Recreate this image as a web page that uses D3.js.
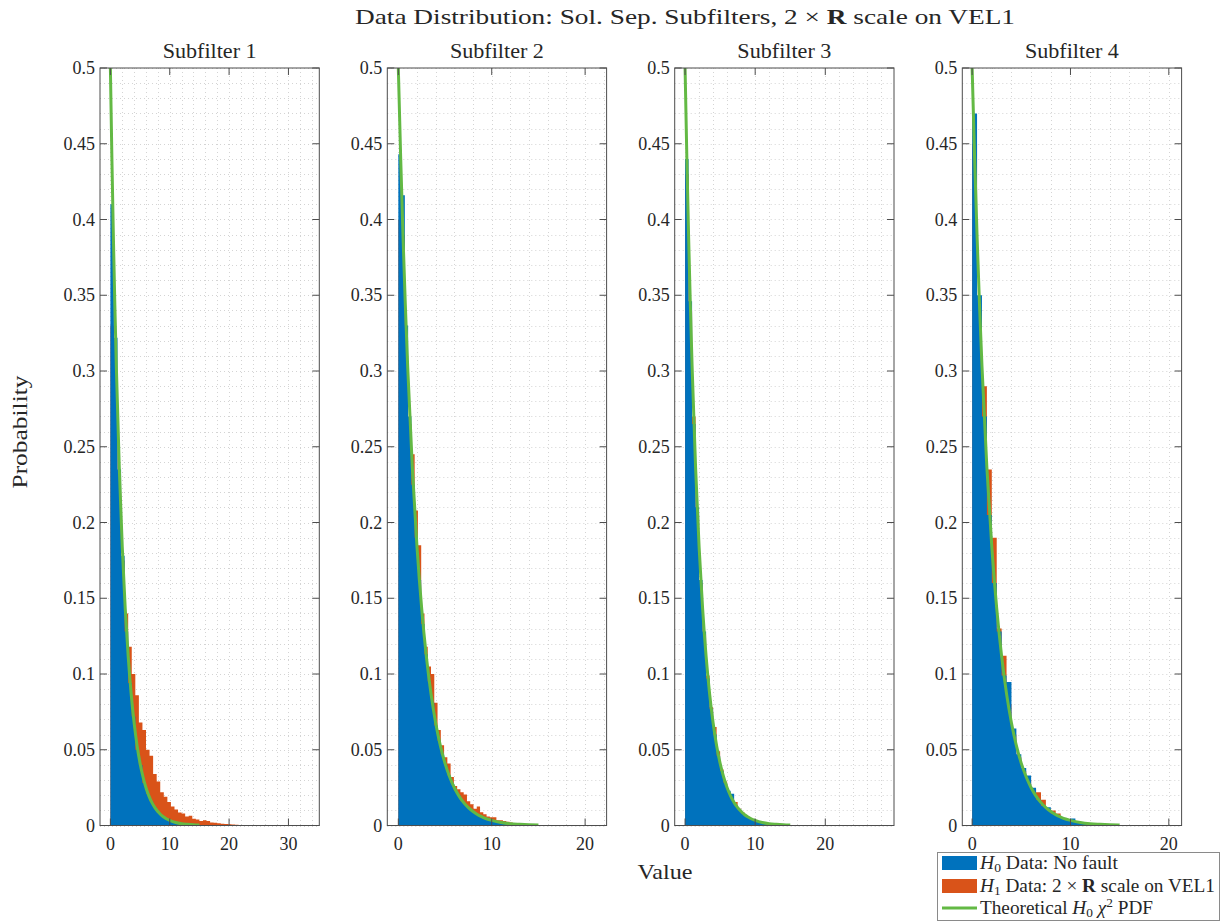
<!DOCTYPE html>
<html>
<head>
<meta charset="utf-8">
<script src="https://cdn.jsdelivr.net/npm/d3@7"></script>
<style>
  body { margin: 0; background: #ffffff; }
  text { font-family: "Liberation Serif", "Times New Roman", serif; fill: #262626; }
</style>
</head>
<body>
<svg id="chart" width="1221" height="922"></svg>
<script>
// ---- data ----------------------------------------------------------------
const panelTitles = ["Subfilter 1", "Subfilter 2", "Subfilter 3", "Subfilter 4"];

const xTicks1 = [0, 10, 20, 30];
const xTicks2 = [0, 10, 20];
const xTicks3 = [0, 10, 20];
const xTicks4 = [0, 10, 20];

const xLimits1 = [-1.75, 35.2];
const xLimits2 = [-1.18, 22.3];
const xLimits3 = [-1.48, 29.8];
const xLimits4 = [-1.0, 21.3];

const yTicks = [0, 0.05, 0.1, 0.15, 0.2, 0.25, 0.3, 0.35, 0.4, 0.45, 0.5];
const yTickLabels = ["0", "0.05", "0.1", "0.15", "0.2", "0.25", "0.3", "0.35", "0.4", "0.45", "0.5"];

// histogram bin widths (bins start at 0)
const binWidth1 = 0.6;
const binWidth2 = 0.35;
const binWidth3 = 0.5;
const binWidth4 = 0.5;

// H0: no fault (pdf-normalised bin heights)
const h0Sub1 = [0.41, 0.322, 0.235, 0.178, 0.128, 0.094, 0.072, 0.050, 0.040, 0.028, 0.021, 0.016, 0.012, 0.0085,
  0.0065, 0.005, 0.0035, 0.0027, 0.002, 0.0014, 0.0011, 0.0008, 0.0006, 0.0004, 0.0003, 0.0002, 0.0002, 0.0001];
const h0Sub2 = [0.443, 0.416, 0.33, 0.27, 0.225, 0.19, 0.162, 0.133, 0.113, 0.095, 0.081, 0.066, 0.056, 0.047, 0.040,
  0.033, 0.028, 0.023, 0.020, 0.016, 0.014, 0.0115, 0.0098, 0.0082, 0.007, 0.0057, 0.005, 0.004, 0.0034, 0.0029,
  0.0025, 0.002, 0.0017, 0.0014, 0.0012, 0.001, 0.0009, 0.0007, 0.0006, 0.0005, 0.0004, 0.0003, 0.0003, 0.0002,
  0.0002, 0.0002, 0.0001, 0.0001, 0.0001, 0, 0, 0.0003, 0.0002];
const h0Sub3 = [0.44, 0.346, 0.265, 0.21, 0.162, 0.128, 0.097, 0.077, 0.060, 0.046, 0.036, 0.028, 0.023, 0.021,
  0.0135, 0.0105, 0.008, 0.0063, 0.005, 0.0038, 0.003, 0.0023, 0.0018, 0.0014, 0.0011, 0.0009, 0.0007, 0.0005,
  0.0004, 0.0003];
const h0Sub4 = [0.47, 0.35, 0.27, 0.205, 0.16, 0.128, 0.099, 0.0947, 0.064, 0.047, 0.038, 0.033, 0.025, 0.017,
  0.013, 0.012, 0.008, 0.0065, 0.005, 0.004, 0.0046, 0.0025, 0.0018, 0.0014, 0.0011, 0.0009, 0.0007, 0.0005,
  0.0004, 0.0003, 0, 0.0004, 0, 0, 0, 0.0003];

// H1: 2 x R scale on VEL1
const h1Sub1 = [0.33, 0.27, 0.22, 0.175, 0.14, 0.118, 0.100, 0.086, 0.068, 0.063, 0.050, 0.046, 0.034, 0.029,
  0.022, 0.019, 0.0155, 0.0125, 0.0105, 0.0085, 0.0080, 0.0060, 0.0065, 0.0045, 0.0040, 0.0030, 0.0035, 0.0030,
  0.0020, 0.0018, 0.0015, 0.0012, 0.0010, 0.0008, 0.0006, 0.0005, 0.0004, 0.0003, 0.0003, 0.0002, 0.0002,
  0.0001, 0.0002, 0.0001, 0, 0.0001, 0, 0.0002];
const h1Sub2 = [0.40, 0.39, 0.31, 0.265, 0.245, 0.208, 0.185, 0.14, 0.118, 0.105, 0.100, 0.081, 0.063, 0.053,
  0.045, 0.041, 0.032, 0.026, 0.024, 0.022, 0.0205, 0.016, 0.014, 0.011, 0.0125, 0.0088, 0.0075, 0.006, 0.0055,
  0.0055, 0.0035, 0.0035, 0.003, 0.0025, 0.002, 0.0015, 0.0012, 0.001, 0.0008, 0.0006, 0.0005, 0.0004, 0.0003,
  0.0003, 0.0002, 0.0002, 0.0001, 0.0001, 0, 0, 0, 0, 0, 0.0001, 0, 0, 0, 0, 0, 0.0002];
const h1Sub3 = [0.43, 0.34, 0.27, 0.205, 0.16, 0.126, 0.099, 0.078, 0.065, 0.049, 0.037, 0.029, 0.022, 0.017,
  0.0155, 0.011, 0.0085, 0.0065, 0.005, 0.004, 0.003, 0.0024, 0.0018, 0.0015, 0.0012, 0.0009, 0.0007, 0.0005,
  0.0004, 0.0003];
const h1Sub4 = [0.45, 0.34, 0.29, 0.235, 0.19, 0.13, 0.112, 0.08, 0.06, 0.045, 0.036, 0.03, 0.024, 0.022, 0.017,
  0.011, 0.0099, 0.0079, 0.005, 0.004, 0.003, 0.0025, 0.002, 0.0015, 0.0011, 0.0009, 0.0007, 0.0005, 0.0004, 0.0003];

// theoretical H0 chi-square pdf, sampled
const pdfX = [0, 0.25, 0.5, 0.75, 1, 1.5, 2, 2.5, 3, 3.5, 4, 4.5, 5, 5.5, 6, 6.5, 7, 7.5, 8, 8.5, 9, 9.5, 10,
  11, 12, 13, 14, 15];
const pdfY = [0.5, 0.4412, 0.3894, 0.3437, 0.3033, 0.2362, 0.1839, 0.1433, 0.1116, 0.0869, 0.0677, 0.0527, 0.0410,
  0.0320, 0.0249, 0.0194, 0.0151, 0.0118, 0.0092, 0.0071, 0.0056, 0.0043, 0.0034, 0.0020, 0.0012, 0.0008, 0.0005,
  0.0003];

// ---- layout & style --------------------------------------------------------
const panels = [
  { title: panelTitles[0], ticks: xTicks1, lim: xLimits1, w0: binWidth1, h0: h0Sub1, w1: binWidth1, h1: h1Sub1, left: 100 },
  { title: panelTitles[1], ticks: xTicks2, lim: xLimits2, w0: binWidth2, h0: h0Sub2, w1: binWidth2, h1: h1Sub2, left: 387.3 },
  { title: panelTitles[2], ticks: xTicks3, lim: xLimits3, w0: binWidth3, h0: h0Sub3, w1: binWidth3, h1: h1Sub3, left: 674.7 },
  { title: panelTitles[3], ticks: xTicks4, lim: xLimits4, w0: binWidth4, h0: h0Sub4, w1: binWidth4, h1: h1Sub4, left: 962.3 }
];
const panelW = 219.3;
const plotTop = 68, plotBottom = 825.5;
const COL_H0 = "#0072BD", COL_H1 = "#D95319", COL_PDF = "#63B944";
const AXIS = "#4d4d4d";
const tickLen = 7;

const svg = d3.select("#chart");
const y = d3.scaleLinear().domain([0, 0.5]).range([plotBottom, plotTop]);

function histArea(x, values, w) {
  const pts = values.map((v, i) => ({ x: i * w, v }));
  pts.push({ x: values.length * w, v: 0 });
  return d3.area()
    .curve(d3.curveStepAfter)
    .x(d => x(d.x))
    .y0(y(0))
    .y1(d => y(d.v))(pts);
}

panels.forEach((p, k) => {
  const x = d3.scaleLinear().domain(p.lim).range([p.left, p.left + panelW]);
  const g = svg.append("g");
  const clipId = "clip" + k;
  svg.append("clipPath").attr("id", clipId)
    .append("rect").attr("x", p.left).attr("y", plotTop).attr("width", panelW).attr("height", plotBottom - plotTop);

  // minor and major grid, dotted
  const minorY = d3.range(0, 0.5001, 0.01);
  const minorX = d3.range(0, p.lim[1], 2);
  const grid = g.append("g").attr("stroke", "#c9c9c9").attr("stroke-width", 0.8)
    .attr("stroke-dasharray", "1,3").attr("fill", "none");
  grid.selectAll("line.h").data(minorY).join("line").attr("class", "h")
    .attr("x1", p.left).attr("x2", p.left + panelW)
    .attr("y1", d => Math.round(y(d)) + 0.5).attr("y2", d => Math.round(y(d)) + 0.5);
  grid.selectAll("line.v").data(minorX).join("line").attr("class", "v")
    .attr("y1", plotTop).attr("y2", plotBottom)
    .attr("x1", d => Math.round(x(d)) + 0.5).attr("x2", d => Math.round(x(d)) + 0.5);

  // histograms: H1 underneath, H0 on top
  const hg = g.append("g").attr("clip-path", `url(#${clipId})`);
  hg.append("path").attr("d", histArea(x, p.h1, p.w1)).attr("fill", COL_H1);
  hg.append("path").attr("d", histArea(x, p.h0, p.w0)).attr("fill", COL_H0);

  // theoretical pdf
  hg.append("path")
    .attr("d", d3.line().curve(d3.curveMonotoneX).x(d => x(d)).y((d, i) => y(pdfY[i]))(pdfX))
    .attr("fill", "none").attr("stroke", COL_PDF).attr("stroke-width", 3);

  // box
  g.append("rect").attr("x", p.left).attr("y", plotTop).attr("width", panelW).attr("height", plotBottom - plotTop)
    .attr("fill", "none").attr("stroke", AXIS).attr("stroke-width", 1);

  // ticks (inward on all four sides)
  const tk = g.append("g").attr("stroke", AXIS).attr("stroke-width", 1);
  p.ticks.forEach(t => {
    const xx = x(t);
    tk.append("line").attr("x1", xx).attr("x2", xx).attr("y1", plotBottom).attr("y2", plotBottom - tickLen);
    tk.append("line").attr("x1", xx).attr("x2", xx).attr("y1", plotTop).attr("y2", plotTop + tickLen);
  });
  yTicks.forEach(t => {
    const yy = y(t);
    tk.append("line").attr("x1", p.left).attr("x2", p.left + tickLen).attr("y1", yy).attr("y2", yy);
    tk.append("line").attr("x1", p.left + panelW).attr("x2", p.left + panelW - tickLen).attr("y1", yy).attr("y2", yy);
  });

  // tick labels
  g.selectAll("text.xt").data(p.ticks).join("text").attr("class", "xt")
    .attr("x", d => x(d)).attr("y", plotBottom + 24).attr("text-anchor", "middle")
    .attr("font-size", 18).text(d => d);
  g.selectAll("text.yt").data(yTicks).join("text").attr("class", "yt")
    .attr("x", p.left - 5).attr("y", d => y(d) + 6).attr("text-anchor", "end")
    .attr("font-size", 18).text((d, i) => yTickLabels[i]);

  // panel title
  g.append("text").attr("x", p.left + panelW / 2).attr("y", plotTop - 10).attr("text-anchor", "middle")
    .attr("font-size", 20).attr("textLength", 94).attr("lengthAdjust", "spacingAndGlyphs").text(p.title);
});

// figure title
const title = svg.append("text").attr("x", 685).attr("y", 24).attr("text-anchor", "middle").attr("font-size", 22)
  .attr("textLength", 660).attr("lengthAdjust", "spacingAndGlyphs");
title.append("tspan").text("Data Distribution: Sol. Sep. Subfilters, 2 × ");
title.append("tspan").attr("font-weight", "bold").text("R");
title.append("tspan").text(" scale on VEL1");

// shared axis labels
svg.append("text").attr("x", 665).attr("y", 879).attr("text-anchor", "middle").attr("font-size", 22)
  .attr("textLength", 55).attr("lengthAdjust", "spacingAndGlyphs").text("Value");
svg.append("text").attr("transform", "translate(27,432) rotate(-90)").attr("text-anchor", "middle")
  .attr("font-size", 22).attr("textLength", 113).attr("lengthAdjust", "spacingAndGlyphs").text("Probability");

// legend
const lg = svg.append("g");
lg.append("rect").attr("x", 937.5).attr("y", 852.5).attr("width", 282).attr("height", 68)
  .attr("fill", "#ffffff").attr("stroke", "#8a8a8a").attr("stroke-width", 1);
const legendRows = [
  { type: "patch", color: COL_H0, cy: 863 },
  { type: "patch", color: COL_H1, cy: 886 },
  { type: "line", color: COL_PDF, cy: 908 }
];
legendRows.forEach(r => {
  if (r.type === "patch") {
    lg.append("rect").attr("x", 942).attr("y", r.cy - 7).attr("width", 35).attr("height", 14).attr("fill", r.color);
  } else {
    lg.append("line").attr("x1", 942).attr("x2", 977).attr("y1", r.cy).attr("y2", r.cy)
      .attr("stroke", r.color).attr("stroke-width", 3);
  }
});
function legendText(cy, len) {
  return lg.append("text").attr("x", 980).attr("y", cy + 6).attr("font-size", 18)
    .attr("textLength", len).attr("lengthAdjust", "spacingAndGlyphs");
}
let t1 = legendText(863, 138);
t1.append("tspan").attr("font-style", "italic").text("H");
t1.append("tspan").attr("font-size", 12.5).attr("dy", 3).text("0");
t1.append("tspan").attr("dy", -3).text(" Data: No fault");
let t2 = legendText(886, 235);
t2.append("tspan").attr("font-style", "italic").text("H");
t2.append("tspan").attr("font-size", 12.5).attr("dy", 3).text("1");
t2.append("tspan").attr("dy", -3).text(" Data: 2 × ");
t2.append("tspan").attr("font-weight", "bold").text("R");
t2.append("tspan").text(" scale on VEL1");
let t3 = legendText(908, 173);
t3.append("tspan").text("Theoretical ");
t3.append("tspan").attr("font-style", "italic").text("H");
t3.append("tspan").attr("font-size", 12.5).attr("dy", 3).text("0");
t3.append("tspan").attr("dy", -3).attr("font-style", "italic").text(" χ");
t3.append("tspan").attr("font-size", 12.5).attr("dy", -7).text("2");
t3.append("tspan").attr("dy", 7).text(" PDF");
</script>
</body>
</html>
